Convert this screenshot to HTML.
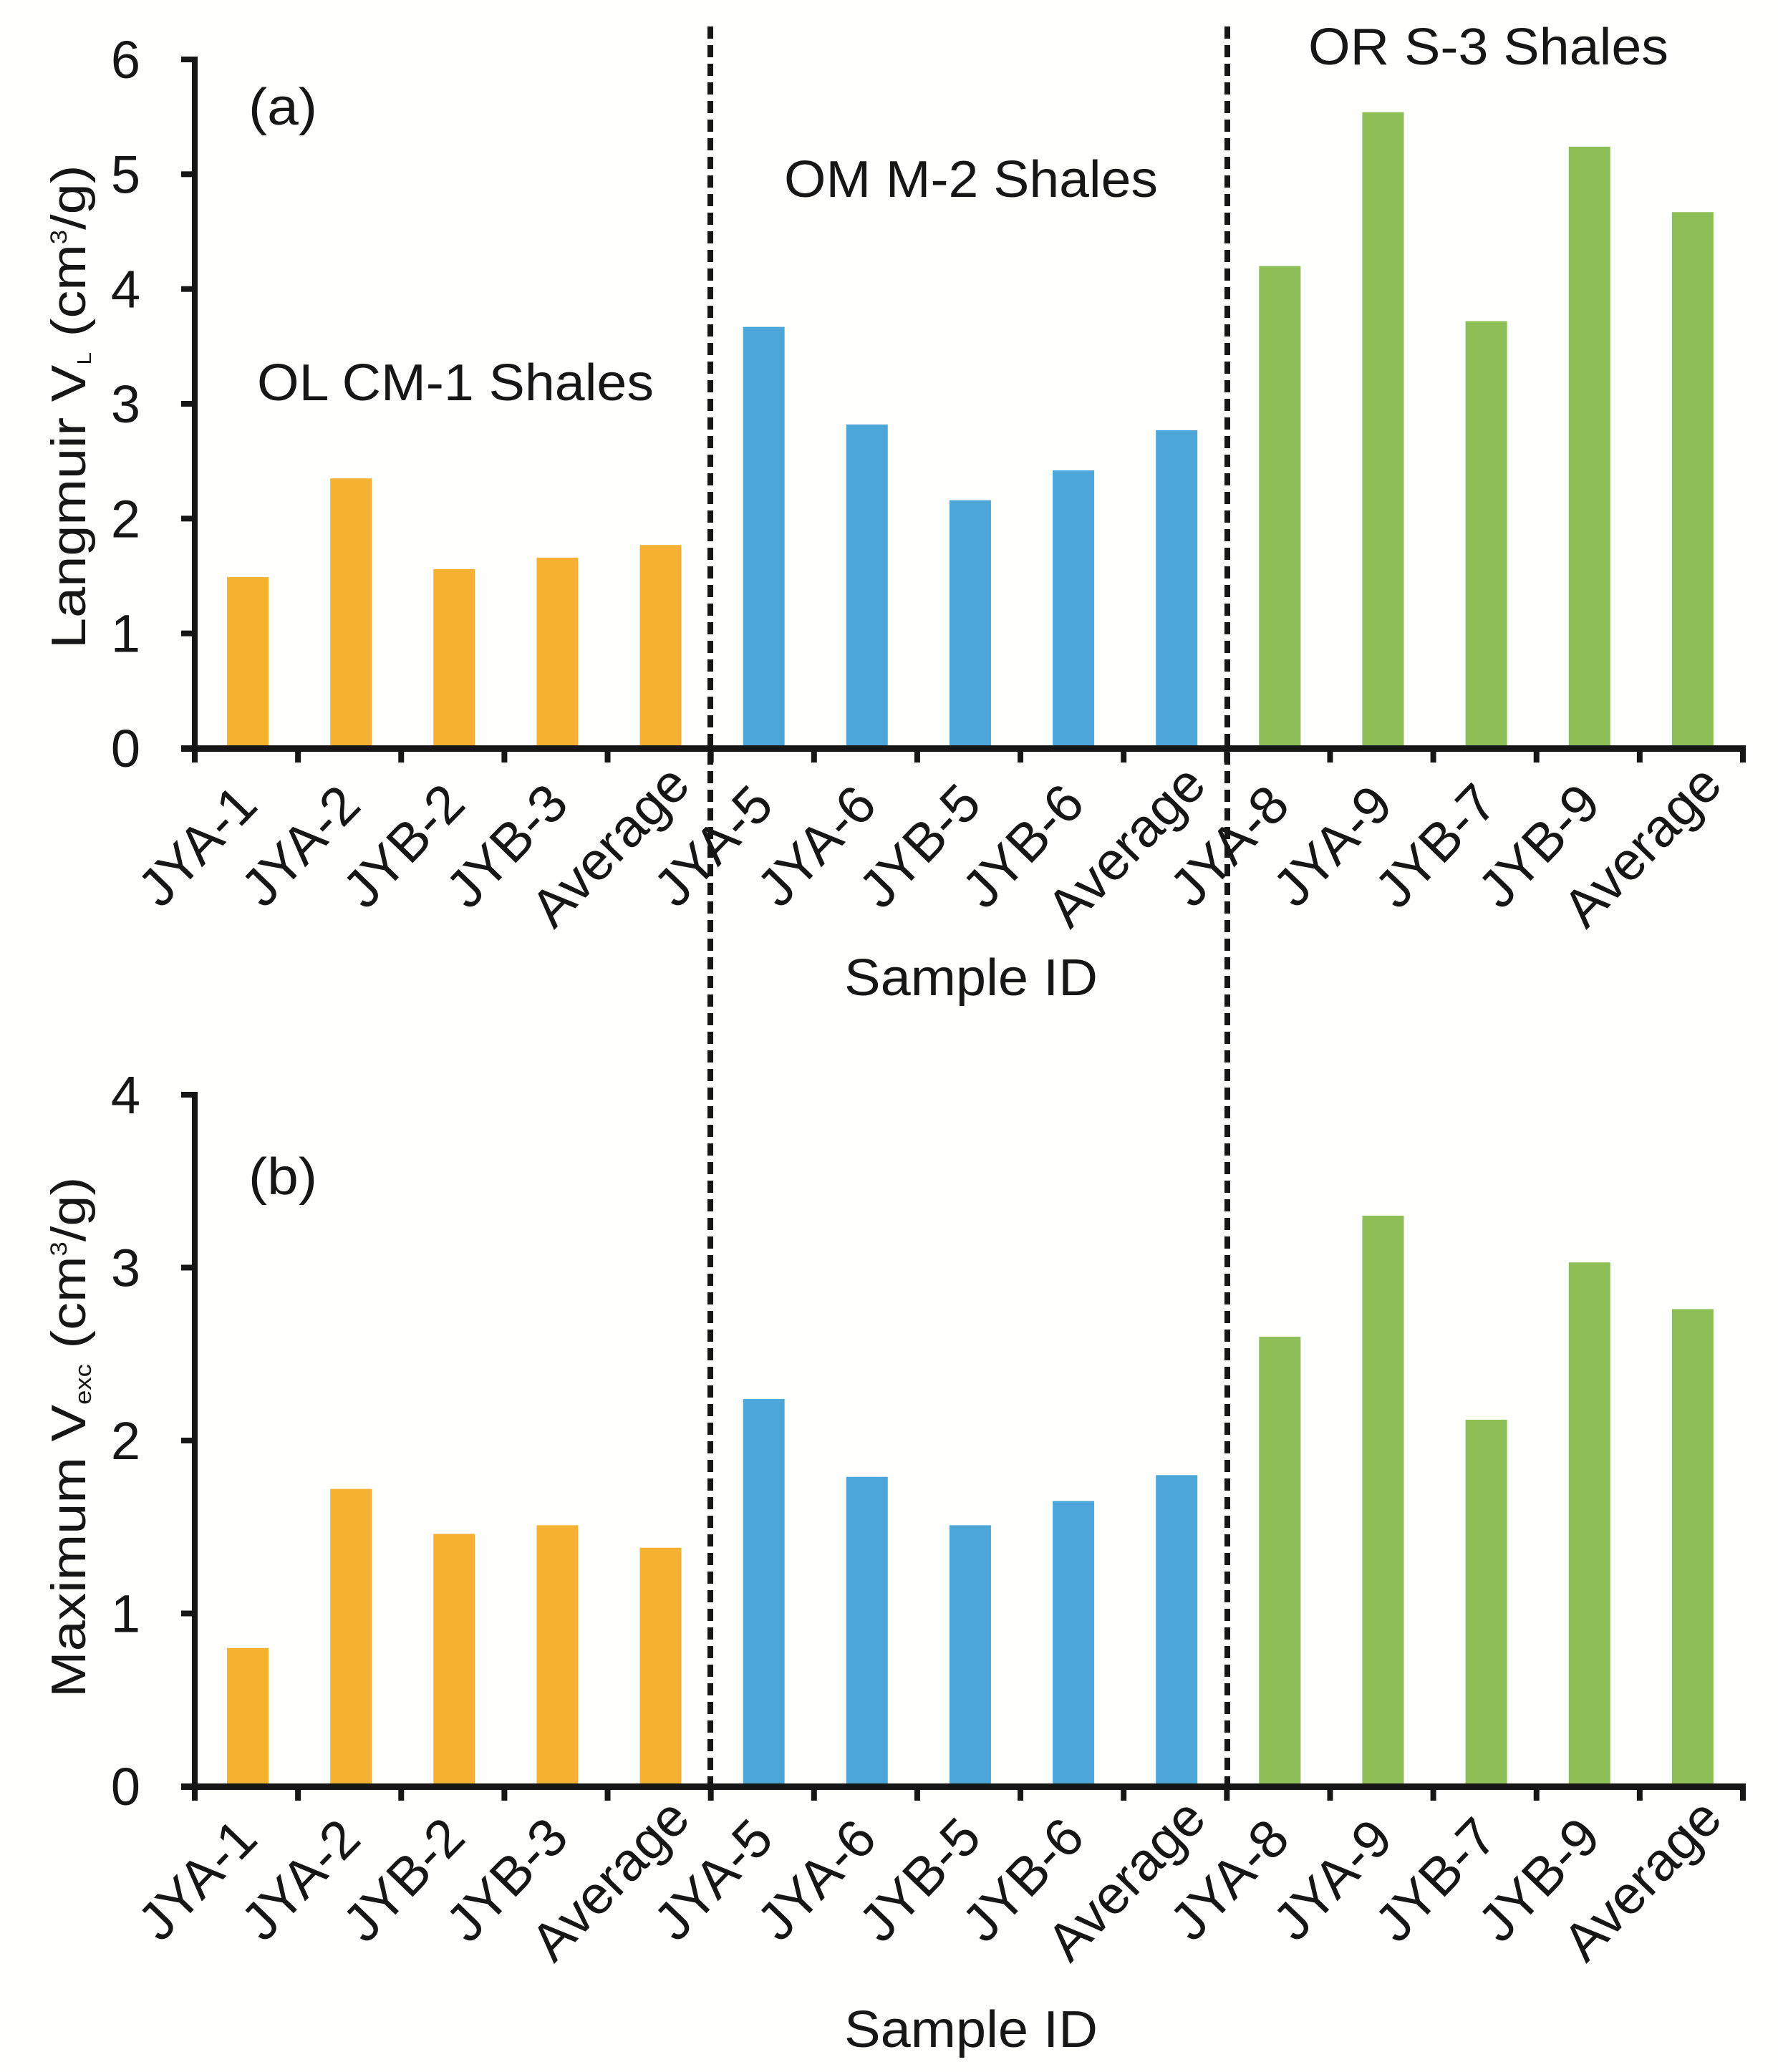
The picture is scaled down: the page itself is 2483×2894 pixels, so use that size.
<!DOCTYPE html>
<html lang="en">
<head>
<meta charset="utf-8">
<title>Langmuir VL and Maximum Vexc by sample</title>
<style>
  html, body { margin: 0; padding: 0; background: #fefefd; }
  svg { display: block; }
  text { font-family: "Liberation Sans", Arial, sans-serif; fill: #161616; }
</style>
</head>
<body>
<svg id="chart" xmlns="http://www.w3.org/2000/svg" width="2483" height="2894" viewBox="0 0 2483 2894">
  <rect x="0" y="0" width="2483" height="2894" fill="#fefefd"/>
  <g id="marks"></g>
  <text x="347" y="174" font-size="72" textLength="96" lengthAdjust="spacingAndGlyphs">(a)</text>
  <text x="347" y="1668" font-size="72" textLength="96" lengthAdjust="spacingAndGlyphs">(b)</text>
  <text x="359" y="559" font-size="72" textLength="554" lengthAdjust="spacingAndGlyphs">OL CM-1 Shales</text>
  <text x="1095" y="275" font-size="72" textLength="522" lengthAdjust="spacingAndGlyphs">OM M-2 Shales</text>
  <text x="1827" y="90" font-size="72" textLength="503" lengthAdjust="spacingAndGlyphs">OR S-3 Shales</text>
  <text x="1356" y="1390" font-size="72" text-anchor="middle" textLength="354" lengthAdjust="spacingAndGlyphs">Sample ID</text>
  <text x="1356" y="2859" font-size="72" text-anchor="middle" textLength="354" lengthAdjust="spacingAndGlyphs">Sample ID</text>
  <text transform="translate(119,906) rotate(-90) scale(1.14,1)" font-size="68">Langmuir V<tspan font-size="28" dy="8">L</tspan><tspan dy="-8"> (cm</tspan><tspan font-size="32" dy="-26">3</tspan><tspan dy="26">/g)</tspan></text>
  <text transform="translate(119,2371) rotate(-90) scale(1.14,1)" font-size="68">Maximum V<tspan font-size="32" dy="8">exc</tspan><tspan dy="-8"> (cm</tspan><tspan font-size="32" dy="-26">3</tspan><tspan dy="26">/g)</tspan></text>
</svg>
<script>
const categories = ["JYA-1","JYA-2","JYB-2","JYB-3","Average","JYA-5","JYA-6","JYB-5","JYB-6","Average","JYA-8","JYA-9","JYB-7","JYB-9","Average"];
const langmuirValues = [1.49,2.35,1.56,1.66,1.77,3.67,2.82,2.16,2.42,2.77,4.2,5.54,3.72,5.24,4.67];
const maxExcessValues = [0.8,1.72,1.46,1.51,1.38,2.24,1.79,1.51,1.65,1.8,2.6,3.3,2.12,3.03,2.76];
const langmuirTicks = [0,1,2,3,4,5,6];
const maxExcessTicks = [0,1,2,3,4];
const groupColors = ["#f6b133","#4ca7d8","#8dbf56"];

const NS = "http://www.w3.org/2000/svg";
const INK = "#161616";
const marks = document.getElementById("marks");
const X0 = 272, X1 = 2434;
const xBand = i => X0 + (X1 - X0) * i / categories.length;

function makeRect(x, y, w, h, fill) {
  const r = document.createElementNS(NS, "rect");
  r.setAttribute("x", x); r.setAttribute("y", y);
  r.setAttribute("width", w); r.setAttribute("height", h);
  r.setAttribute("fill", fill);
  return r;
}

function drawPanel(id, values, ticks, yTop, yBase, labelOffsetY) {
  const yMax = ticks[ticks.length - 1];
  const yPos = v => yBase - (yBase - yTop) * v / yMax;

  values.forEach((v, i) => {
    const bar = makeRect(xBand(i) + 45, yPos(v), 58, yBase - yPos(v), groupColors[Math.floor(i / 5)]);
    
    
    marks.appendChild(bar);
  });

  const yAxis = makeRect(X0 - 4, yTop - 4, 8, yBase - yTop + 8, INK);
  
  
  marks.appendChild(yAxis);

  const xAxis = makeRect(253, yBase - 4, X1 - 253 + 4, 9, INK);
  
  
  marks.appendChild(xAxis);

  ticks.forEach(t => {
    const tick = makeRect(253, yPos(t) - 4, 19, 8, INK);
    
    
    marks.appendChild(tick);

    const label = document.createElementNS(NS, "text");
    label.setAttribute("x", 196);
    label.setAttribute("y", yPos(t) + 26);
    label.setAttribute("font-size", 74);
    label.setAttribute("text-anchor", "end");
    label.textContent = t;
    
    
    marks.appendChild(label);
  });

  for (let i = 0; i <= categories.length; i++) {
    const tick = makeRect(xBand(i) - 4, yBase, 8, 20, INK);
    
    
    marks.appendChild(tick);
  }

  categories.forEach((c, i) => {
    const label = document.createElementNS(NS, "text");
    const cx = xBand(i) + 72 - 66, cy = yBase + labelOffsetY;
    label.setAttribute("transform", "translate(" + cx + "," + cy + ") rotate(-46)");
    label.setAttribute("y", 22);
    label.setAttribute("font-size", 75);
    label.setAttribute("text-anchor", "middle");
    label.textContent = c;
    
    
    marks.appendChild(label);
  });
}

drawPanel("a", langmuirValues, langmuirTicks, 83, 1045, 139);
drawPanel("b", maxExcessValues, maxExcessTicks, 1529, 2495, 133);

[992, 1714].forEach((x, i) => {
  const line = document.createElementNS(NS, "line");
  line.setAttribute("x1", x); line.setAttribute("x2", x);
  line.setAttribute("y1", 37); line.setAttribute("y2", 2495);
  line.setAttribute("stroke", INK);
  line.setAttribute("stroke-width", 8);
  line.setAttribute("stroke-dasharray", "17 9");
  
  
  marks.appendChild(line);
});
</script>
</body>
</html>
